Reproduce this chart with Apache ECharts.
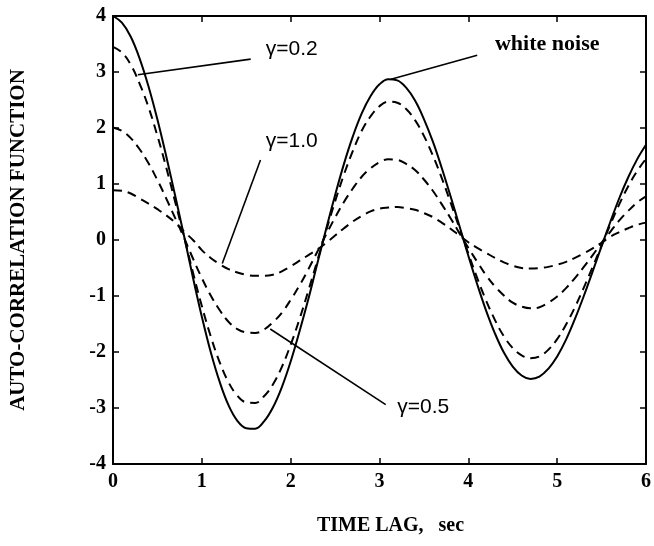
<!DOCTYPE html>
<html>
<head>
<meta charset="utf-8">
<script src="https://cdn.jsdelivr.net/npm/echarts@6/dist/echarts.min.js"></script>
<style>html,body{margin:0;padding:0;background:#fff}#c{width:654px;height:546px}</style>
</head>
<body>
<div id="c"></div>
<script>
// time lag grid (sec)
const lags = [0.0,0.1,0.2,0.3,0.4,0.5,0.6,0.7,0.8,0.9,1.0,1.1,1.2,1.3,1.4,1.5,1.6,1.7,1.8,1.9,2.0,2.1,2.2,2.3,2.4,2.5,2.6,2.7,2.8,2.9,3.0,3.1,3.2,3.3,3.4,3.5,3.6,3.7,3.8,3.9,4.0,4.1,4.2,4.3,4.4,4.5,4.6,4.7,4.8,4.9,5.0,5.1,5.2,5.3,5.4,5.5,5.6,5.7,5.8,5.9,6.0];
// white noise (solid)
const whiteNoise = [4.00,3.88,3.63,3.24,2.74,2.15,1.49,0.79,0.07,-0.67,-1.37,-2.00,-2.53,-2.95,-3.23,-3.36,-3.37,-3.24,-2.99,-2.63,-2.17,-1.63,-1.05,-0.42,0.20,0.80,1.36,1.85,2.26,2.57,2.78,2.87,2.85,2.72,2.49,2.16,1.76,1.29,0.78,0.25,-0.28,-0.79,-1.26,-1.67,-2.01,-2.26,-2.42,-2.48,-2.44,-2.30,-2.08,-1.78,-1.41,-1.00,-0.56,-0.11,0.33,0.75,1.12,1.44,1.70];
// gamma = 0.2
const gamma02 = [3.45,3.35,3.13,2.79,2.37,1.86,1.29,0.68,0.06,-0.58,-1.18,-1.72,-2.18,-2.54,-2.78,-2.90,-2.91,-2.79,-2.58,-2.27,-1.87,-1.41,-0.90,-0.37,0.17,0.69,1.17,1.59,1.95,2.21,2.39,2.47,2.45,2.34,2.14,1.86,1.51,1.11,0.67,0.21,-0.24,-0.68,-1.08,-1.43,-1.72,-1.93,-2.06,-2.11,-2.08,-1.96,-1.77,-1.51,-1.20,-0.85,-0.48,-0.10,0.28,0.64,0.96,1.23,1.45];
// gamma = 0.5
const gamma05 = [2.01,1.95,1.82,1.62,1.37,1.07,0.74,0.39,0.04,-0.33,-0.68,-0.99,-1.25,-1.46,-1.59,-1.65,-1.66,-1.60,-1.47,-1.30,-1.07,-0.81,-0.52,-0.21,0.10,0.40,0.68,0.92,1.13,1.28,1.39,1.44,1.43,1.36,1.25,1.08,0.88,0.64,0.39,0.12,-0.14,-0.39,-0.63,-0.83,-0.99,-1.12,-1.19,-1.22,-1.20,-1.12,-1.01,-0.86,-0.68,-0.48,-0.27,-0.05,0.15,0.35,0.52,0.67,0.78];
// gamma = 1.0
const gamma10 = [0.89,0.88,0.83,0.74,0.65,0.55,0.44,0.31,0.15,0.00,-0.18,-0.32,-0.43,-0.52,-0.58,-0.62,-0.64,-0.64,-0.62,-0.56,-0.47,-0.37,-0.27,-0.17,-0.05,0.08,0.21,0.33,0.43,0.51,0.56,0.58,0.59,0.57,0.54,0.48,0.41,0.31,0.20,0.08,-0.04,-0.14,-0.23,-0.32,-0.40,-0.46,-0.50,-0.51,-0.50,-0.48,-0.44,-0.39,-0.32,-0.24,-0.15,-0.05,0.06,0.14,0.21,0.27,0.31];
// tick labels
const xTicks = ['0','1','2','3','4','5','6'];
const yTicks = ['-4','-3','-2','-1','0','1','2','3','4'];
// annotations: text, text anchor [x,y] (left-middle), leader from, leader to
const annText = ['\u03b3=0.2', '\u03b3=1.0', 'white noise', '\u03b3=0.5'];
const annAnchor = [[1.72,3.40],[1.72,1.76],[4.30,3.50],[3.20,-2.98]];
const annFrom = [[1.55,3.23],[1.66,1.43],[4.10,3.30],[3.07,-2.94]];
const annTo = [[0.28,2.95],[1.23,-0.42],[3.13,2.87],[1.77,-1.59]];

const pair = arr => lags.map((x,i)=>[x,arr[i]]);
const serif = '"Liberation Serif","Times New Roman",serif';
const sans = '"Liberation Sans",Arial,sans-serif';
const curveSeries = (data, dashed) => ({
  type:'line', data: pair(data), smooth:0.4, symbol:'none', silent:true,
  xAxisIndex:0, yAxisIndex:0,
  lineStyle:{color:'#000', width:2, type: dashed?[9,6]:'solid', join:'round'}
});
const series = [
  curveSeries(whiteNoise,false),
  curveSeries(gamma02,true),
  curveSeries(gamma05,true),
  curveSeries(gamma10,true)
];
annText.forEach((t,i)=>{
  series.push({type:'line', data:[annFrom[i], annTo[i]], symbol:'none', silent:true,
    lineStyle:{color:'#000', width:1.6}});
});

const labelStyle = {color:'#000', fontFamily:serif, fontWeight:'bold', fontSize:20};
const chart = echarts.init(document.getElementById('c'), null, {renderer:'canvas'});
chart.setOption({
  animation:false,
  backgroundColor:'#fff',
  grid:{left:108, right:8, top:16, bottom:82, containLabel:false},
  xAxis:[
    {type:'value', min:0, max:6, interval:1, position:'bottom',
     axisLine:{show:true, onZero:false, lineStyle:{color:'#000', width:2}},
     axisTick:{show:true, inside:true, length:6, lineStyle:{color:'#000', width:1.5}},
     splitLine:{show:false},
     axisLabel:Object.assign({margin:8, formatter:(v)=>xTicks[Math.round(v)]}, labelStyle),
     name:'TIME LAG,   sec', nameLocation:'middle', nameGap:52,
     nameTextStyle:{color:'#000', fontFamily:serif, fontWeight:'bold', fontSize:20, padding:[0,0,0,22]}},
    {type:'value', min:0, max:6, interval:1, position:'top',
     axisLine:{show:true, onZero:false, lineStyle:{color:'#000', width:2}},
     axisTick:{show:true, inside:true, length:6, lineStyle:{color:'#000', width:1.5}},
     splitLine:{show:false}, axisLabel:{show:false}}
  ],
  yAxis:[
    {type:'value', min:-4, max:4, interval:1, position:'left',
     axisLine:{show:true, onZero:false, lineStyle:{color:'#000', width:2}},
     axisTick:{show:true, inside:true, length:6, lineStyle:{color:'#000', width:1.5}},
     splitLine:{show:false},
     axisLabel:Object.assign({margin:7, formatter:(v)=>yTicks[Math.round(v)+4]}, labelStyle),
     name:'AUTO-CORRELATION FUNCTION', nameLocation:'middle', nameGap:84,
     nameTextStyle:{color:'#000', fontFamily:serif, fontWeight:'bold', fontSize:21}},
    {type:'value', min:-4, max:4, interval:1, position:'right',
     axisLine:{show:true, onZero:false, lineStyle:{color:'#000', width:2}},
     axisTick:{show:true, inside:true, length:6, lineStyle:{color:'#000', width:1.5}},
     splitLine:{show:false}, axisLabel:{show:false}}
  ],
  series: series
});
// annotation texts placed through the chart's own coordinate conversion
const texts = annText.map((t,i)=>{
  const p = chart.convertToPixel({xAxisIndex:0, yAxisIndex:0}, annAnchor[i]);
  return {type:'text', x:p[0], y:p[1], silent:true,
    style:{text:t, fill:'#000', opacity:1, align:'left', verticalAlign:'middle',
      font: (i===2 ? 'bold 22px ' + serif : 'normal 21px ' + sans)}};
});
chart.setOption({graphic:{elements:texts}});
</script>
</body>
</html>
